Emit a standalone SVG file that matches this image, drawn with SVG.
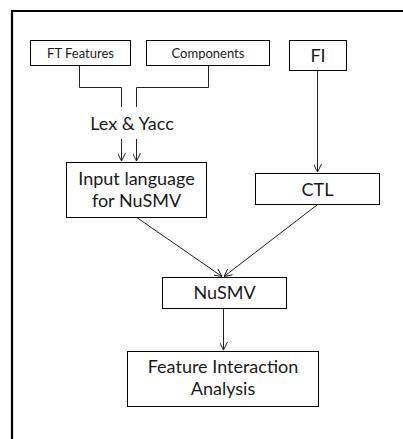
<svg xmlns="http://www.w3.org/2000/svg" width="403" height="439" viewBox="0 0 403 439">
<style>
.box{fill:#fff;stroke:#000;stroke-width:1}
.t{font-family:Lato,"Liberation Sans",sans-serif;fill:#1a1a1a;text-anchor:middle}
.big{font-size:18px}
.small{font-size:13px}
.c{fill:none;stroke:#222;stroke-width:1}
</style>
<defs>
<marker id="ah" viewBox="0 0 10 10" refX="10" refY="5" markerWidth="8" markerHeight="8" markerUnits="userSpaceOnUse" orient="auto">
<path d="M0,0 L10,5 L0,10" fill="none" stroke="#222" stroke-width="1.2"/>
</marker>
</defs>
<rect width="403" height="439" fill="#fff"/>
<path d="M12,439 V11 H403" fill="none" stroke="#000" stroke-width="2.2"/>
<g id="connectors">
<path class="c" d="M79.5,66 V87.5 H121.5 V107"/>
<path class="c" d="M208.5,66 V87.5 H136.5 V107"/>
<path class="c" d="M121.5,139 V161" marker-end="url(#ah)"/>
<path class="c" d="M136.5,139 V161" marker-end="url(#ah)"/>
<path class="c" d="M317.5,71 V172" marker-end="url(#ah)"/>
<path class="c" d="M136,217 L222,276.5" marker-end="url(#ah)"/>
<path class="c" d="M317,205 L224,276.5" marker-end="url(#ah)"/>
<path class="c" d="M223.5,308 V350" marker-end="url(#ah)"/>
</g>
<g id="ft-features">
<rect class="box" x="30.5" y="40.5" width="100" height="25"/>
<text class="t small" x="80.5" y="58">FT Features</text>
</g>
<g id="components">
<rect class="box" x="146.5" y="40.5" width="123" height="25"/>
<text class="t small" x="208" y="58">Components</text>
</g>
<g id="fi">
<rect class="box" x="289.5" y="40.5" width="57" height="30"/>
<text class="t big" x="318" y="62">FI</text>
</g>
<g id="lex-yacc">
<text class="t big" x="132" y="130">Lex &amp; Yacc</text>
</g>
<g id="input-language">
<rect class="box" x="66.5" y="162.5" width="140" height="55"/>
<text class="t big" x="136.5" y="185">Input language</text>
<text class="t big" x="136.5" y="207">for NuSMV</text>
</g>
<g id="ctl">
<rect class="box" x="255.5" y="173.5" width="124" height="31"/>
<text class="t big" x="317.5" y="196">CTL</text>
</g>
<g id="nusmv">
<rect class="box" x="162.5" y="277.5" width="124" height="31"/>
<text class="t big" x="224.5" y="299">NuSMV</text>
</g>
<g id="fia">
<rect class="box" x="127.5" y="351.5" width="191" height="55"/>
<text class="t big" x="223" y="373">Feature Interaction</text>
<text class="t big" x="223" y="395">Analysis</text>
</g>
</svg>
